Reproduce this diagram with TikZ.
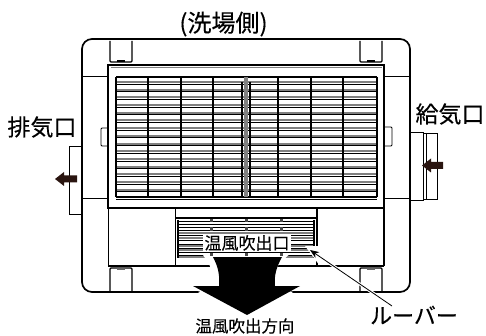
\documentclass[tikz,border=0pt]{standalone}
\usepackage{fontspec}
\setmainfont{Noto Sans CJK JP}
\newfontfamily\labelfont[FakeBold=0.25]{Noto Sans CJK JP}
\usetikzlibrary{arrows.meta}
\definecolor{flowbrown}{HTML}{2A1510}
\tikzset{
	body/.style = {draw, line width = 1.7pt},
	part/.style = {draw, line width = 1.2pt},
	thinline/.style = {draw, line width = .9pt},
	slat/.style = {draw = black!50, line width = 2pt},
	flow/.style = {fill = flowbrown, draw = none}
}
\begin{document}
\begin{tikzpicture}[x = 1pt, y = -1pt]
		\useasboundingbox (0, 0) rectangle (486, 336);
		% side ducts
		\draw[thinline] (82, 146) -- (69, 146) -- (69, 214) -- (82, 214);
		\draw[thinline] (410, 132) -- (423, 132) -- (423, 200) -- (410, 200);
		\draw[thinline] (423, 133) -- (437, 133) -- (437, 199) -- (423, 199);
		\draw[thinline] (426, 133) -- (426, 199);
		% outer body
		\draw[body, rounded corners = 10pt] (82, 292) -- (82, 39) -- (410, 39) -- (410, 292) -- cycle;
		\draw[thinline] (82, 76) -- (108, 76);
		\draw[thinline] (384, 76) -- (410, 76);
		\draw[thinline] (82, 198) -- (108, 198);
		\draw[thinline] (384, 198) -- (410, 198);
		% clips
		\foreach \x in {110, 360}
		{
			\draw[part, rounded corners = 1pt] (\x, 41) -- (\x, 62) -- (\x + 22, 62) -- (\x + 22, 41);
			\draw[part, rounded corners = 1pt] (\x, 292) -- (\x, 268) -- (\x + 22, 268) -- (\x + 22, 292);
			\fill (\x + 7, 60) rectangle (\x + 15, 62.5);
			\fill[black!60] (\x + 7, 268) rectangle (\x + 15, 270);
		}
		% side tabs
		\draw[thinline, rounded corners = 1pt] (108, 128) -- (101, 128) -- (101, 146) -- (108, 146);
		\draw[thinline, rounded corners = 1pt] (384, 127) -- (392, 127) -- (392, 146) -- (384, 146);
		% grille frame
		\draw[body, fill = white] (108, 65) rectangle (384, 208);
		\draw[draw = black!50, line width = .8pt] (110.5, 67) -- (381.5, 67);
		\draw[thinline] (108, 266) -- (108, 208);
		\draw[body] (384, 266) -- (384, 208);
		% grille
		\foreach \y in {0, ..., 15}
		{
			\draw[slat] (116, 82 + 7.7*\y) -- (377, 82 + 7.7*\y);
			\draw[thinline] (116, 84 + 7.7*\y) -- (377, 84 + 7.7*\y);
		}
		\draw[part] (116, 77) -- (377, 77);
		\draw[part] (116, 197) -- (377, 197);
		\foreach \x in {116, 148, 181, 213, 278, 311, 343, 377}
		{
			\draw[part] (\x, 77) -- (\x, 197);
		}
		\foreach \x in {242, 250}
		{
			\draw[part] (\x, 82) -- (\x, 197);
		}
		\draw[line width = 3.5pt, black!50] (246, 77) -- (246, 197);
		% lower part
		\draw[body] (108, 266) -- (384, 266);
		\draw[body] (175.5, 208) -- (175.5, 266);
		\draw[body] (317, 208) -- (317, 266);
		\draw[part] (175, 218) -- (317, 218);
		\foreach \y in {221, 224, 227, 230, 235, 240, 244, 248, 252, 255}
		{
			\draw[thinline] (178, \y) -- (314, \y);
		}
		\foreach \y in {233, 238, 246, 250, 257}
		{
			\draw[draw = black!50, line width = 1.8pt] (178, \y) -- (314, \y);
		}
		\draw[part] (178, 220) -- (178, 258);
		\draw[part] (314, 220) -- (314, 258);
		\foreach \x in {211, 246, 281}
		{
			\fill[black!70] (\x - 1.5, 219.5) rectangle (\x + 1.5, 222.5);
			\fill[black!70] (\x - 1.5, 227.5) rectangle (\x + 1.5, 230.5);
		}
		% big arrow
		\fill[white] (203, 255) -- (205, 258) .. controls (211, 265) and (214, 276) .. (214, 286)
			-- (198, 292) -- (247, 320) -- (293, 292) -- (270, 286) .. controls (270, 276) and (275, 266) .. (291, 253) -- cycle;
		\fill[white] (305, 246) -- (318.5, 246) -- (318.5, 264) -- cycle;
		\fill (213, 257) .. controls (217, 265) and (220, 272) .. (219, 286) -- (193, 286) -- (247, 315)
			-- (300, 286) -- (275, 286) .. controls (274, 276) and (276, 268) .. (282, 257) -- cycle;
		\foreach \x in {211, 246, 281}
		{
			\fill[black!70] (\x - 1.5, 253) rectangle (\x + 1.5, 255.5);
		}
		% flow arrows
		\fill[flow] (77, 175.5) -- (64, 175.5) -- (64, 172) -- (55, 179) -- (64, 186) -- (64, 182.5) -- (77, 182.5) -- cycle;
		\fill[flow] (443, 162) -- (431, 162) -- (431, 158.5) -- (422, 165.5) -- (431, 172.5) -- (431, 169) -- (443, 169) -- cycle;
		% labels
		\node[inner sep = 0pt] (side) at (223.5, 24) {\labelfont\fontsize{24}{24}\selectfont (洗場側)};
		\node[inner sep = 0pt] (exhaust) at (42, 127) {\labelfont\fontsize{23}{23}\selectfont 排気口};
		\node[inner sep = 0pt] (intake) at (450, 114) {\labelfont\fontsize{23}{23}\selectfont 給気口};
		\node[fill = white, inner sep = 1.5pt] (outlet) at (247, 243) {\labelfont\fontsize{17}{17}\selectfont 温風吹出口};
		\node[inner sep = 0pt] (louver) at (414, 315) {\labelfont\fontsize{22}{22}\selectfont ルーバー};
		\node[inner sep = 0pt] (direction) at (245, 326) {\labelfont\fontsize{16.5}{16.5}\selectfont 温風吹出方向};
		\coordinate (louvertip) at (310, 250);
		\coordinate (louverend) at (392, 306);
		\draw[white, line width = 3pt] (louverend) -- (louvertip);
		\draw[-{Stealth[length = 9pt, width = 7pt]}, line width = .8pt] (louverend) -- (louvertip);
		\end{tikzpicture}
\end{document}
